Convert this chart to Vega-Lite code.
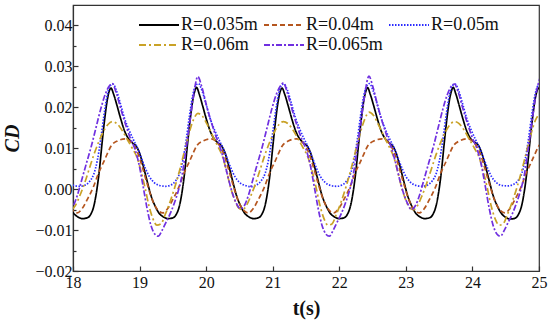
{
"$schema": "https://vega.github.io/schema/vega-lite/v6.json",
"width": 466, "height": 266,
"autosize": {"type": "none"},
"padding": {"left": 73, "top": 5, "right": 11, "bottom": 61},
"background": "white",
"config": {
  "font": "Liberation Serif",
  "view": {"stroke": "#333333", "strokeWidth": 1.2},
  "axis": {"grid": false, "domainColor": "#333333", "domainWidth": 1.2, "tickColor": "#333333", "tickWidth": 1.2,
    "labelFont": "Liberation Serif", "labelFontSize": 16, "labelColor": "#111111",
    "titleFont": "Liberation Serif", "titleFontSize": 20, "titleFontWeight": "bold", "titleColor": "#111111"},
  "legend": {"labelFont": "Liberation Serif"}
},
"data": {"values": [
{"s":"R=0.035m","t":17.885,"v":-0.0015},{"s":"R=0.035m","t":17.945,"v":-0.004},{"s":"R=0.035m","t":18.005,"v":-0.0058},{"s":"R=0.035m","t":18.075,"v":-0.0068},{"s":"R=0.035m","t":18.145,"v":-0.0072},{"s":"R=0.035m","t":18.215,"v":-0.007},{"s":"R=0.035m","t":18.265,"v":-0.0062},{"s":"R=0.035m","t":18.315,"v":-0.004},{"s":"R=0.035m","t":18.355,"v":-0.0005},{"s":"R=0.035m","t":18.395,"v":0.0045},{"s":"R=0.035m","t":18.435,"v":0.011},{"s":"R=0.035m","t":18.475,"v":0.017},{"s":"R=0.035m","t":18.515,"v":0.0218},{"s":"R=0.035m","t":18.545,"v":0.024},
{"s":"R=0.035m","t":18.57,"v":0.0247},{"s":"R=0.035m","t":18.61,"v":0.0232},{"s":"R=0.035m","t":18.66,"v":0.0205},{"s":"R=0.035m","t":18.72,"v":0.017},{"s":"R=0.035m","t":18.78,"v":0.014},{"s":"R=0.035m","t":18.84,"v":0.0122},{"s":"R=0.035m","t":18.9,"v":0.0112},{"s":"R=0.035m","t":18.95,"v":0.0105},{"s":"R=0.035m","t":19.0,"v":0.0088},{"s":"R=0.035m","t":19.05,"v":0.006},{"s":"R=0.035m","t":19.11,"v":0.0022},{"s":"R=0.035m","t":19.17,"v":-0.0015},{"s":"R=0.035m","t":19.23,"v":-0.004},{"s":"R=0.035m","t":19.29,"v":-0.0058},{"s":"R=0.035m","t":19.36,"v":-0.0068},{"s":"R=0.035m","t":19.43,"v":-0.0072},{"s":"R=0.035m","t":19.5,"v":-0.007},{"s":"R=0.035m","t":19.55,"v":-0.0062},{"s":"R=0.035m","t":19.6,"v":-0.004},{"s":"R=0.035m","t":19.64,"v":-0.0005},{"s":"R=0.035m","t":19.68,"v":0.0045},{"s":"R=0.035m","t":19.72,"v":0.011},{"s":"R=0.035m","t":19.76,"v":0.017},{"s":"R=0.035m","t":19.8,"v":0.0218},{"s":"R=0.035m","t":19.83,"v":0.024},
{"s":"R=0.035m","t":19.855,"v":0.0249},{"s":"R=0.035m","t":19.895,"v":0.0233},{"s":"R=0.035m","t":19.945,"v":0.0205},{"s":"R=0.035m","t":20.005,"v":0.017},{"s":"R=0.035m","t":20.065,"v":0.014},{"s":"R=0.035m","t":20.125,"v":0.0122},{"s":"R=0.035m","t":20.185,"v":0.0112},{"s":"R=0.035m","t":20.235,"v":0.0105},{"s":"R=0.035m","t":20.285,"v":0.0088},{"s":"R=0.035m","t":20.335,"v":0.006},{"s":"R=0.035m","t":20.395,"v":0.0022},{"s":"R=0.035m","t":20.455,"v":-0.0015},{"s":"R=0.035m","t":20.515,"v":-0.004},{"s":"R=0.035m","t":20.575,"v":-0.0058},{"s":"R=0.035m","t":20.645,"v":-0.0068},{"s":"R=0.035m","t":20.715,"v":-0.0072},{"s":"R=0.035m","t":20.785,"v":-0.007},{"s":"R=0.035m","t":20.835,"v":-0.0062},{"s":"R=0.035m","t":20.885,"v":-0.004},{"s":"R=0.035m","t":20.925,"v":-0.0005},{"s":"R=0.035m","t":20.965,"v":0.0045},{"s":"R=0.035m","t":21.005,"v":0.011},{"s":"R=0.035m","t":21.045,"v":0.017},{"s":"R=0.035m","t":21.085,"v":0.0218},{"s":"R=0.035m","t":21.115,"v":0.024},
{"s":"R=0.035m","t":21.14,"v":0.0247},{"s":"R=0.035m","t":21.18,"v":0.0232},{"s":"R=0.035m","t":21.23,"v":0.0205},{"s":"R=0.035m","t":21.29,"v":0.017},{"s":"R=0.035m","t":21.35,"v":0.014},{"s":"R=0.035m","t":21.41,"v":0.0122},{"s":"R=0.035m","t":21.47,"v":0.0112},{"s":"R=0.035m","t":21.52,"v":0.0105},{"s":"R=0.035m","t":21.57,"v":0.0088},{"s":"R=0.035m","t":21.62,"v":0.006},{"s":"R=0.035m","t":21.68,"v":0.0022},{"s":"R=0.035m","t":21.74,"v":-0.0015},{"s":"R=0.035m","t":21.8,"v":-0.004},{"s":"R=0.035m","t":21.86,"v":-0.0058},{"s":"R=0.035m","t":21.93,"v":-0.0068},{"s":"R=0.035m","t":22.0,"v":-0.0072},{"s":"R=0.035m","t":22.07,"v":-0.007},{"s":"R=0.035m","t":22.12,"v":-0.0062},{"s":"R=0.035m","t":22.17,"v":-0.004},{"s":"R=0.035m","t":22.21,"v":-0.0005},{"s":"R=0.035m","t":22.25,"v":0.0045},{"s":"R=0.035m","t":22.29,"v":0.011},{"s":"R=0.035m","t":22.33,"v":0.017},{"s":"R=0.035m","t":22.37,"v":0.0218},{"s":"R=0.035m","t":22.4,"v":0.024},
{"s":"R=0.035m","t":22.425,"v":0.0248},{"s":"R=0.035m","t":22.465,"v":0.0232},{"s":"R=0.035m","t":22.515,"v":0.0205},{"s":"R=0.035m","t":22.575,"v":0.017},{"s":"R=0.035m","t":22.635,"v":0.014},{"s":"R=0.035m","t":22.695,"v":0.0122},{"s":"R=0.035m","t":22.755,"v":0.0112},{"s":"R=0.035m","t":22.805,"v":0.0105},{"s":"R=0.035m","t":22.855,"v":0.0088},{"s":"R=0.035m","t":22.905,"v":0.006},{"s":"R=0.035m","t":22.965,"v":0.0022},{"s":"R=0.035m","t":23.025,"v":-0.0015},{"s":"R=0.035m","t":23.085,"v":-0.004},{"s":"R=0.035m","t":23.145,"v":-0.0058},{"s":"R=0.035m","t":23.215,"v":-0.0068},{"s":"R=0.035m","t":23.285,"v":-0.0072},{"s":"R=0.035m","t":23.355,"v":-0.007},{"s":"R=0.035m","t":23.405,"v":-0.0062},{"s":"R=0.035m","t":23.455,"v":-0.004},{"s":"R=0.035m","t":23.495,"v":-0.0005},{"s":"R=0.035m","t":23.535,"v":0.0045},{"s":"R=0.035m","t":23.575,"v":0.011},{"s":"R=0.035m","t":23.615,"v":0.017},{"s":"R=0.035m","t":23.655,"v":0.0218},{"s":"R=0.035m","t":23.685,"v":0.024},
{"s":"R=0.035m","t":23.71,"v":0.0249},{"s":"R=0.035m","t":23.75,"v":0.0233},{"s":"R=0.035m","t":23.8,"v":0.0205},{"s":"R=0.035m","t":23.86,"v":0.017},{"s":"R=0.035m","t":23.92,"v":0.014},{"s":"R=0.035m","t":23.98,"v":0.0122},{"s":"R=0.035m","t":24.04,"v":0.0114},{"s":"R=0.035m","t":24.09,"v":0.0107},{"s":"R=0.035m","t":24.14,"v":0.0088},{"s":"R=0.035m","t":24.19,"v":0.006},{"s":"R=0.035m","t":24.25,"v":0.0022},{"s":"R=0.035m","t":24.31,"v":-0.0015},{"s":"R=0.035m","t":24.37,"v":-0.004},{"s":"R=0.035m","t":24.43,"v":-0.0058},{"s":"R=0.035m","t":24.5,"v":-0.0069},{"s":"R=0.035m","t":24.57,"v":-0.0073},{"s":"R=0.035m","t":24.64,"v":-0.0071},{"s":"R=0.035m","t":24.69,"v":-0.0062},{"s":"R=0.035m","t":24.74,"v":-0.004},{"s":"R=0.035m","t":24.78,"v":-0.0005},{"s":"R=0.035m","t":24.82,"v":0.0045},{"s":"R=0.035m","t":24.86,"v":0.011},{"s":"R=0.035m","t":24.9,"v":0.017},{"s":"R=0.035m","t":24.94,"v":0.0218},{"s":"R=0.035m","t":24.97,"v":0.024},{"s":"R=0.035m","t":24.995,"v":0.0247},{"s":"R=0.035m","t":25.035,"v":0.0232},

{"s":"R=0.04m","t":17.835,"v":0.001},{"s":"R=0.04m","t":17.915,"v":-0.003},{"s":"R=0.04m","t":17.995,"v":-0.0052},{"s":"R=0.04m","t":18.065,"v":-0.0058},{"s":"R=0.04m","t":18.135,"v":-0.0048},{"s":"R=0.04m","t":18.215,"v":-0.0025},{"s":"R=0.04m","t":18.305,"v":0.0005},{"s":"R=0.04m","t":18.385,"v":0.004},{"s":"R=0.04m","t":18.465,"v":0.0068},{"s":"R=0.04m","t":18.525,"v":0.009},
{"s":"R=0.04m","t":18.57,"v":0.0105},{"s":"R=0.04m","t":18.67,"v":0.0118},{"s":"R=0.04m","t":18.79,"v":0.0123},{"s":"R=0.04m","t":18.89,"v":0.0112},{"s":"R=0.04m","t":18.97,"v":0.009},{"s":"R=0.04m","t":19.04,"v":0.0055},{"s":"R=0.04m","t":19.12,"v":0.001},{"s":"R=0.04m","t":19.2,"v":-0.003},{"s":"R=0.04m","t":19.28,"v":-0.0052},{"s":"R=0.04m","t":19.35,"v":-0.0058},{"s":"R=0.04m","t":19.42,"v":-0.0048},{"s":"R=0.04m","t":19.5,"v":-0.0025},{"s":"R=0.04m","t":19.59,"v":0.0005},{"s":"R=0.04m","t":19.67,"v":0.004},{"s":"R=0.04m","t":19.75,"v":0.0068},{"s":"R=0.04m","t":19.81,"v":0.009},
{"s":"R=0.04m","t":19.855,"v":0.0105},{"s":"R=0.04m","t":19.955,"v":0.0118},{"s":"R=0.04m","t":20.075,"v":0.0123},{"s":"R=0.04m","t":20.175,"v":0.0112},{"s":"R=0.04m","t":20.255,"v":0.009},{"s":"R=0.04m","t":20.325,"v":0.0055},{"s":"R=0.04m","t":20.405,"v":0.001},{"s":"R=0.04m","t":20.485,"v":-0.003},{"s":"R=0.04m","t":20.565,"v":-0.0052},{"s":"R=0.04m","t":20.635,"v":-0.0058},{"s":"R=0.04m","t":20.705,"v":-0.0048},{"s":"R=0.04m","t":20.785,"v":-0.0025},{"s":"R=0.04m","t":20.875,"v":0.0005},{"s":"R=0.04m","t":20.955,"v":0.004},{"s":"R=0.04m","t":21.035,"v":0.0068},{"s":"R=0.04m","t":21.095,"v":0.009},
{"s":"R=0.04m","t":21.14,"v":0.0105},{"s":"R=0.04m","t":21.24,"v":0.0118},{"s":"R=0.04m","t":21.36,"v":0.0123},{"s":"R=0.04m","t":21.46,"v":0.0112},{"s":"R=0.04m","t":21.54,"v":0.009},{"s":"R=0.04m","t":21.61,"v":0.0055},{"s":"R=0.04m","t":21.69,"v":0.001},{"s":"R=0.04m","t":21.77,"v":-0.003},{"s":"R=0.04m","t":21.85,"v":-0.0052},{"s":"R=0.04m","t":21.92,"v":-0.0058},{"s":"R=0.04m","t":21.99,"v":-0.0048},{"s":"R=0.04m","t":22.07,"v":-0.0025},{"s":"R=0.04m","t":22.16,"v":0.0005},{"s":"R=0.04m","t":22.24,"v":0.004},{"s":"R=0.04m","t":22.32,"v":0.0068},{"s":"R=0.04m","t":22.38,"v":0.009},
{"s":"R=0.04m","t":22.425,"v":0.0105},{"s":"R=0.04m","t":22.525,"v":0.0118},{"s":"R=0.04m","t":22.645,"v":0.0123},{"s":"R=0.04m","t":22.745,"v":0.0112},{"s":"R=0.04m","t":22.825,"v":0.009},{"s":"R=0.04m","t":22.895,"v":0.0055},{"s":"R=0.04m","t":22.975,"v":0.001},{"s":"R=0.04m","t":23.055,"v":-0.003},{"s":"R=0.04m","t":23.135,"v":-0.0052},{"s":"R=0.04m","t":23.205,"v":-0.0058},{"s":"R=0.04m","t":23.275,"v":-0.0048},{"s":"R=0.04m","t":23.355,"v":-0.0025},{"s":"R=0.04m","t":23.445,"v":0.0005},{"s":"R=0.04m","t":23.525,"v":0.004},{"s":"R=0.04m","t":23.605,"v":0.0068},{"s":"R=0.04m","t":23.665,"v":0.009},
{"s":"R=0.04m","t":23.71,"v":0.0105},{"s":"R=0.04m","t":23.81,"v":0.0118},{"s":"R=0.04m","t":23.93,"v":0.0123},{"s":"R=0.04m","t":24.03,"v":0.0112},{"s":"R=0.04m","t":24.11,"v":0.009},{"s":"R=0.04m","t":24.18,"v":0.0055},{"s":"R=0.04m","t":24.26,"v":0.001},{"s":"R=0.04m","t":24.34,"v":-0.003},{"s":"R=0.04m","t":24.42,"v":-0.0052},{"s":"R=0.04m","t":24.49,"v":-0.0058},{"s":"R=0.04m","t":24.56,"v":-0.0048},{"s":"R=0.04m","t":24.64,"v":-0.0025},{"s":"R=0.04m","t":24.73,"v":0.0005},{"s":"R=0.04m","t":24.81,"v":0.004},{"s":"R=0.04m","t":24.89,"v":0.0068},{"s":"R=0.04m","t":24.95,"v":0.009},{"s":"R=0.04m","t":24.995,"v":0.0105},{"s":"R=0.04m","t":25.095,"v":0.0118},

{"s":"R=0.05m","t":17.865,"v":0.003},{"s":"R=0.05m","t":17.935,"v":0.0016},{"s":"R=0.05m","t":18.015,"v":0.0009},{"s":"R=0.05m","t":18.105,"v":0.0007},{"s":"R=0.05m","t":18.185,"v":0.001},{"s":"R=0.05m","t":18.255,"v":0.002},{"s":"R=0.05m","t":18.315,"v":0.0038},{"s":"R=0.05m","t":18.365,"v":0.007},{"s":"R=0.05m","t":18.415,"v":0.012},{"s":"R=0.05m","t":18.465,"v":0.018},{"s":"R=0.05m","t":18.515,"v":0.023},{"s":"R=0.05m","t":18.555,"v":0.0252},
{"s":"R=0.05m","t":18.6,"v":0.0257},{"s":"R=0.05m","t":18.65,"v":0.0242},{"s":"R=0.05m","t":18.71,"v":0.021},{"s":"R=0.05m","t":18.77,"v":0.0175},{"s":"R=0.05m","t":18.84,"v":0.0145},{"s":"R=0.05m","t":18.91,"v":0.012},{"s":"R=0.05m","t":18.97,"v":0.01},{"s":"R=0.05m","t":19.03,"v":0.0075},{"s":"R=0.05m","t":19.09,"v":0.005},{"s":"R=0.05m","t":19.15,"v":0.003},{"s":"R=0.05m","t":19.22,"v":0.0016},{"s":"R=0.05m","t":19.3,"v":0.0009},{"s":"R=0.05m","t":19.39,"v":0.0007},{"s":"R=0.05m","t":19.47,"v":0.001},{"s":"R=0.05m","t":19.54,"v":0.002},{"s":"R=0.05m","t":19.6,"v":0.0038},{"s":"R=0.05m","t":19.65,"v":0.007},{"s":"R=0.05m","t":19.7,"v":0.012},{"s":"R=0.05m","t":19.75,"v":0.018},{"s":"R=0.05m","t":19.8,"v":0.023},{"s":"R=0.05m","t":19.84,"v":0.0252},
{"s":"R=0.05m","t":19.885,"v":0.0258},{"s":"R=0.05m","t":19.935,"v":0.0242},{"s":"R=0.05m","t":19.995,"v":0.021},{"s":"R=0.05m","t":20.055,"v":0.0175},{"s":"R=0.05m","t":20.125,"v":0.0145},{"s":"R=0.05m","t":20.195,"v":0.012},{"s":"R=0.05m","t":20.255,"v":0.01},{"s":"R=0.05m","t":20.315,"v":0.0075},{"s":"R=0.05m","t":20.375,"v":0.005},{"s":"R=0.05m","t":20.435,"v":0.003},{"s":"R=0.05m","t":20.505,"v":0.0016},{"s":"R=0.05m","t":20.585,"v":0.0009},{"s":"R=0.05m","t":20.675,"v":0.0006},{"s":"R=0.05m","t":20.755,"v":0.001},{"s":"R=0.05m","t":20.825,"v":0.002},{"s":"R=0.05m","t":20.885,"v":0.0038},{"s":"R=0.05m","t":20.935,"v":0.007},{"s":"R=0.05m","t":20.985,"v":0.012},{"s":"R=0.05m","t":21.035,"v":0.018},{"s":"R=0.05m","t":21.085,"v":0.023},{"s":"R=0.05m","t":21.125,"v":0.0252},
{"s":"R=0.05m","t":21.17,"v":0.0257},{"s":"R=0.05m","t":21.22,"v":0.0242},{"s":"R=0.05m","t":21.28,"v":0.021},{"s":"R=0.05m","t":21.34,"v":0.0175},{"s":"R=0.05m","t":21.41,"v":0.0145},{"s":"R=0.05m","t":21.48,"v":0.012},{"s":"R=0.05m","t":21.54,"v":0.01},{"s":"R=0.05m","t":21.6,"v":0.0075},{"s":"R=0.05m","t":21.66,"v":0.005},{"s":"R=0.05m","t":21.72,"v":0.003},{"s":"R=0.05m","t":21.79,"v":0.0016},{"s":"R=0.05m","t":21.87,"v":0.0009},{"s":"R=0.05m","t":21.96,"v":0.0007},{"s":"R=0.05m","t":22.04,"v":0.001},{"s":"R=0.05m","t":22.11,"v":0.002},{"s":"R=0.05m","t":22.17,"v":0.0038},{"s":"R=0.05m","t":22.22,"v":0.007},{"s":"R=0.05m","t":22.27,"v":0.012},{"s":"R=0.05m","t":22.32,"v":0.018},{"s":"R=0.05m","t":22.37,"v":0.023},{"s":"R=0.05m","t":22.41,"v":0.0252},
{"s":"R=0.05m","t":22.455,"v":0.0258},{"s":"R=0.05m","t":22.505,"v":0.0242},{"s":"R=0.05m","t":22.565,"v":0.021},{"s":"R=0.05m","t":22.625,"v":0.0175},{"s":"R=0.05m","t":22.695,"v":0.0145},{"s":"R=0.05m","t":22.765,"v":0.012},{"s":"R=0.05m","t":22.825,"v":0.01},{"s":"R=0.05m","t":22.885,"v":0.0075},{"s":"R=0.05m","t":22.945,"v":0.005},{"s":"R=0.05m","t":23.005,"v":0.003},{"s":"R=0.05m","t":23.075,"v":0.0016},{"s":"R=0.05m","t":23.155,"v":0.0009},{"s":"R=0.05m","t":23.245,"v":0.0007},{"s":"R=0.05m","t":23.325,"v":0.001},{"s":"R=0.05m","t":23.395,"v":0.002},{"s":"R=0.05m","t":23.455,"v":0.0038},{"s":"R=0.05m","t":23.505,"v":0.007},{"s":"R=0.05m","t":23.555,"v":0.012},{"s":"R=0.05m","t":23.605,"v":0.018},{"s":"R=0.05m","t":23.655,"v":0.023},{"s":"R=0.05m","t":23.695,"v":0.0252},
{"s":"R=0.05m","t":23.74,"v":0.0257},{"s":"R=0.05m","t":23.79,"v":0.0242},{"s":"R=0.05m","t":23.85,"v":0.021},{"s":"R=0.05m","t":23.91,"v":0.0175},{"s":"R=0.05m","t":23.98,"v":0.0145},{"s":"R=0.05m","t":24.05,"v":0.012},{"s":"R=0.05m","t":24.11,"v":0.01},{"s":"R=0.05m","t":24.17,"v":0.0075},{"s":"R=0.05m","t":24.23,"v":0.005},{"s":"R=0.05m","t":24.29,"v":0.003},{"s":"R=0.05m","t":24.36,"v":0.0016},{"s":"R=0.05m","t":24.44,"v":0.0009},{"s":"R=0.05m","t":24.53,"v":0.0008},{"s":"R=0.05m","t":24.61,"v":0.0011},{"s":"R=0.05m","t":24.68,"v":0.002},{"s":"R=0.05m","t":24.74,"v":0.0038},{"s":"R=0.05m","t":24.79,"v":0.007},{"s":"R=0.05m","t":24.84,"v":0.012},{"s":"R=0.05m","t":24.89,"v":0.018},{"s":"R=0.05m","t":24.94,"v":0.023},{"s":"R=0.05m","t":24.98,"v":0.0252},{"s":"R=0.05m","t":25.025,"v":0.0257},

{"s":"R=0.06m","t":17.855,"v":-0.0025},{"s":"R=0.06m","t":17.915,"v":-0.0045},{"s":"R=0.06m","t":17.975,"v":-0.005},{"s":"R=0.06m","t":18.035,"v":-0.004},{"s":"R=0.06m","t":18.105,"v":-0.0015},{"s":"R=0.06m","t":18.175,"v":0.0015},{"s":"R=0.06m","t":18.245,"v":0.005},{"s":"R=0.06m","t":18.315,"v":0.0085},{"s":"R=0.06m","t":18.385,"v":0.0115},{"s":"R=0.06m","t":18.455,"v":0.014},{"s":"R=0.06m","t":18.525,"v":0.0158},
{"s":"R=0.06m","t":18.59,"v":0.0165},{"s":"R=0.06m","t":18.66,"v":0.016},{"s":"R=0.06m","t":18.74,"v":0.0143},{"s":"R=0.06m","t":18.82,"v":0.012},{"s":"R=0.06m","t":18.89,"v":0.01},{"s":"R=0.06m","t":18.96,"v":0.0078},{"s":"R=0.06m","t":19.02,"v":0.0045},{"s":"R=0.06m","t":19.08,"v":0.0005},{"s":"R=0.06m","t":19.14,"v":-0.004},{"s":"R=0.06m","t":19.2,"v":-0.0072},{"s":"R=0.06m","t":19.26,"v":-0.0088},{"s":"R=0.06m","t":19.32,"v":-0.0085},{"s":"R=0.06m","t":19.39,"v":-0.006},{"s":"R=0.06m","t":19.46,"v":-0.003},{"s":"R=0.06m","t":19.53,"v":0.0005},{"s":"R=0.06m","t":19.6,"v":0.0045},{"s":"R=0.06m","t":19.67,"v":0.009},{"s":"R=0.06m","t":19.74,"v":0.0135},{"s":"R=0.06m","t":19.81,"v":0.017},
{"s":"R=0.06m","t":19.875,"v":0.0185},{"s":"R=0.06m","t":19.945,"v":0.0178},{"s":"R=0.06m","t":20.025,"v":0.0155},{"s":"R=0.06m","t":20.105,"v":0.0128},{"s":"R=0.06m","t":20.175,"v":0.0105},{"s":"R=0.06m","t":20.245,"v":0.008},{"s":"R=0.06m","t":20.305,"v":0.0045},{"s":"R=0.06m","t":20.365,"v":0.0005},{"s":"R=0.06m","t":20.425,"v":-0.0025},{"s":"R=0.06m","t":20.485,"v":-0.0045},{"s":"R=0.06m","t":20.545,"v":-0.005},{"s":"R=0.06m","t":20.605,"v":-0.004},{"s":"R=0.06m","t":20.675,"v":-0.0015},{"s":"R=0.06m","t":20.745,"v":0.0015},{"s":"R=0.06m","t":20.815,"v":0.005},{"s":"R=0.06m","t":20.885,"v":0.0085},{"s":"R=0.06m","t":20.955,"v":0.0115},{"s":"R=0.06m","t":21.025,"v":0.014},{"s":"R=0.06m","t":21.095,"v":0.0158},
{"s":"R=0.06m","t":21.16,"v":0.0165},{"s":"R=0.06m","t":21.23,"v":0.016},{"s":"R=0.06m","t":21.31,"v":0.0143},{"s":"R=0.06m","t":21.39,"v":0.012},{"s":"R=0.06m","t":21.46,"v":0.01},{"s":"R=0.06m","t":21.53,"v":0.0078},{"s":"R=0.06m","t":21.59,"v":0.0045},{"s":"R=0.06m","t":21.65,"v":0.0005},{"s":"R=0.06m","t":21.71,"v":-0.004},{"s":"R=0.06m","t":21.77,"v":-0.0072},{"s":"R=0.06m","t":21.83,"v":-0.0088},{"s":"R=0.06m","t":21.89,"v":-0.0085},{"s":"R=0.06m","t":21.96,"v":-0.006},{"s":"R=0.06m","t":22.03,"v":-0.003},{"s":"R=0.06m","t":22.1,"v":0.0005},{"s":"R=0.06m","t":22.17,"v":0.0045},{"s":"R=0.06m","t":22.24,"v":0.009},{"s":"R=0.06m","t":22.31,"v":0.0135},{"s":"R=0.06m","t":22.38,"v":0.017},
{"s":"R=0.06m","t":22.445,"v":0.0188},{"s":"R=0.06m","t":22.515,"v":0.018},{"s":"R=0.06m","t":22.595,"v":0.0155},{"s":"R=0.06m","t":22.675,"v":0.0128},{"s":"R=0.06m","t":22.745,"v":0.0105},{"s":"R=0.06m","t":22.815,"v":0.008},{"s":"R=0.06m","t":22.875,"v":0.0045},{"s":"R=0.06m","t":22.935,"v":0.0005},{"s":"R=0.06m","t":22.995,"v":-0.0025},{"s":"R=0.06m","t":23.055,"v":-0.0045},{"s":"R=0.06m","t":23.115,"v":-0.005},{"s":"R=0.06m","t":23.175,"v":-0.004},{"s":"R=0.06m","t":23.245,"v":-0.0015},{"s":"R=0.06m","t":23.315,"v":0.0015},{"s":"R=0.06m","t":23.385,"v":0.005},{"s":"R=0.06m","t":23.455,"v":0.0085},{"s":"R=0.06m","t":23.525,"v":0.0115},{"s":"R=0.06m","t":23.595,"v":0.014},{"s":"R=0.06m","t":23.665,"v":0.0158},
{"s":"R=0.06m","t":23.73,"v":0.0165},{"s":"R=0.06m","t":23.8,"v":0.016},{"s":"R=0.06m","t":23.88,"v":0.0143},{"s":"R=0.06m","t":23.96,"v":0.012},{"s":"R=0.06m","t":24.03,"v":0.01},{"s":"R=0.06m","t":24.1,"v":0.0078},{"s":"R=0.06m","t":24.16,"v":0.0045},{"s":"R=0.06m","t":24.22,"v":0.0005},{"s":"R=0.06m","t":24.28,"v":-0.004},{"s":"R=0.06m","t":24.34,"v":-0.0072},{"s":"R=0.06m","t":24.4,"v":-0.0088},{"s":"R=0.06m","t":24.46,"v":-0.0085},{"s":"R=0.06m","t":24.53,"v":-0.006},{"s":"R=0.06m","t":24.6,"v":-0.003},{"s":"R=0.06m","t":24.67,"v":0.0005},{"s":"R=0.06m","t":24.74,"v":0.0045},{"s":"R=0.06m","t":24.81,"v":0.009},{"s":"R=0.06m","t":24.88,"v":0.0135},{"s":"R=0.06m","t":24.95,"v":0.017},{"s":"R=0.06m","t":25.015,"v":0.0185},

{"s":"R=0.065m","t":17.825,"v":-0.001},{"s":"R=0.065m","t":17.885,"v":-0.0035},{"s":"R=0.065m","t":17.945,"v":-0.0048},{"s":"R=0.065m","t":18.005,"v":-0.004},{"s":"R=0.065m","t":18.065,"v":-0.0015},{"s":"R=0.065m","t":18.135,"v":0.0025},{"s":"R=0.065m","t":18.205,"v":0.0065},{"s":"R=0.065m","t":18.275,"v":0.0105},{"s":"R=0.065m","t":18.345,"v":0.015},{"s":"R=0.065m","t":18.415,"v":0.0195},{"s":"R=0.065m","t":18.485,"v":0.0232},{"s":"R=0.065m","t":18.545,"v":0.0252},
{"s":"R=0.065m","t":18.59,"v":0.0258},{"s":"R=0.065m","t":18.65,"v":0.0235},{"s":"R=0.065m","t":18.72,"v":0.0195},{"s":"R=0.065m","t":18.79,"v":0.0158},{"s":"R=0.065m","t":18.86,"v":0.0125},{"s":"R=0.065m","t":18.93,"v":0.0098},{"s":"R=0.065m","t":18.99,"v":0.0062},{"s":"R=0.065m","t":19.05,"v":0.001},{"s":"R=0.065m","t":19.11,"v":-0.0045},{"s":"R=0.065m","t":19.17,"v":-0.0088},{"s":"R=0.065m","t":19.23,"v":-0.011},{"s":"R=0.065m","t":19.28,"v":-0.0115},{"s":"R=0.065m","t":19.34,"v":-0.01},{"s":"R=0.065m","t":19.4,"v":-0.008},{"s":"R=0.065m","t":19.46,"v":-0.006},{"s":"R=0.065m","t":19.52,"v":-0.0035},{"s":"R=0.065m","t":19.58,"v":-0.0005},{"s":"R=0.065m","t":19.64,"v":0.0035},{"s":"R=0.065m","t":19.7,"v":0.01},{"s":"R=0.065m","t":19.76,"v":0.017},{"s":"R=0.065m","t":19.81,"v":0.0228},
{"s":"R=0.065m","t":19.875,"v":0.0275},{"s":"R=0.065m","t":19.935,"v":0.025},{"s":"R=0.065m","t":20.005,"v":0.0205},{"s":"R=0.065m","t":20.075,"v":0.0165},{"s":"R=0.065m","t":20.145,"v":0.013},{"s":"R=0.065m","t":20.215,"v":0.01},{"s":"R=0.065m","t":20.275,"v":0.0065},{"s":"R=0.065m","t":20.335,"v":0.0025},{"s":"R=0.065m","t":20.395,"v":-0.001},{"s":"R=0.065m","t":20.455,"v":-0.0035},{"s":"R=0.065m","t":20.515,"v":-0.0048},{"s":"R=0.065m","t":20.575,"v":-0.004},{"s":"R=0.065m","t":20.635,"v":-0.0015},{"s":"R=0.065m","t":20.705,"v":0.0025},{"s":"R=0.065m","t":20.775,"v":0.0065},{"s":"R=0.065m","t":20.845,"v":0.0105},{"s":"R=0.065m","t":20.915,"v":0.015},{"s":"R=0.065m","t":20.985,"v":0.0195},{"s":"R=0.065m","t":21.055,"v":0.0232},{"s":"R=0.065m","t":21.115,"v":0.0252},
{"s":"R=0.065m","t":21.16,"v":0.026},{"s":"R=0.065m","t":21.22,"v":0.0235},{"s":"R=0.065m","t":21.29,"v":0.0195},{"s":"R=0.065m","t":21.36,"v":0.0158},{"s":"R=0.065m","t":21.43,"v":0.0125},{"s":"R=0.065m","t":21.5,"v":0.0098},{"s":"R=0.065m","t":21.56,"v":0.0062},{"s":"R=0.065m","t":21.62,"v":0.001},{"s":"R=0.065m","t":21.68,"v":-0.0045},{"s":"R=0.065m","t":21.74,"v":-0.0088},{"s":"R=0.065m","t":21.8,"v":-0.011},{"s":"R=0.065m","t":21.85,"v":-0.0115},{"s":"R=0.065m","t":21.91,"v":-0.01},{"s":"R=0.065m","t":21.97,"v":-0.008},{"s":"R=0.065m","t":22.03,"v":-0.006},{"s":"R=0.065m","t":22.09,"v":-0.0035},{"s":"R=0.065m","t":22.15,"v":-0.0005},{"s":"R=0.065m","t":22.21,"v":0.0035},{"s":"R=0.065m","t":22.27,"v":0.01},{"s":"R=0.065m","t":22.33,"v":0.017},{"s":"R=0.065m","t":22.38,"v":0.0228},
{"s":"R=0.065m","t":22.445,"v":0.0276},{"s":"R=0.065m","t":22.505,"v":0.025},{"s":"R=0.065m","t":22.575,"v":0.0205},{"s":"R=0.065m","t":22.645,"v":0.0165},{"s":"R=0.065m","t":22.715,"v":0.013},{"s":"R=0.065m","t":22.785,"v":0.01},{"s":"R=0.065m","t":22.845,"v":0.0065},{"s":"R=0.065m","t":22.905,"v":0.0025},{"s":"R=0.065m","t":22.965,"v":-0.001},{"s":"R=0.065m","t":23.025,"v":-0.0035},{"s":"R=0.065m","t":23.085,"v":-0.005},{"s":"R=0.065m","t":23.145,"v":-0.004},{"s":"R=0.065m","t":23.205,"v":-0.0015},{"s":"R=0.065m","t":23.275,"v":0.0025},{"s":"R=0.065m","t":23.345,"v":0.0065},{"s":"R=0.065m","t":23.415,"v":0.0105},{"s":"R=0.065m","t":23.485,"v":0.015},{"s":"R=0.065m","t":23.555,"v":0.0195},{"s":"R=0.065m","t":23.625,"v":0.0232},{"s":"R=0.065m","t":23.685,"v":0.0252},
{"s":"R=0.065m","t":23.73,"v":0.0257},{"s":"R=0.065m","t":23.79,"v":0.0235},{"s":"R=0.065m","t":23.86,"v":0.0195},{"s":"R=0.065m","t":23.93,"v":0.0158},{"s":"R=0.065m","t":24.0,"v":0.0125},{"s":"R=0.065m","t":24.07,"v":0.0098},{"s":"R=0.065m","t":24.13,"v":0.0062},{"s":"R=0.065m","t":24.19,"v":0.001},{"s":"R=0.065m","t":24.25,"v":-0.0045},{"s":"R=0.065m","t":24.31,"v":-0.0088},{"s":"R=0.065m","t":24.37,"v":-0.011},{"s":"R=0.065m","t":24.42,"v":-0.0115},{"s":"R=0.065m","t":24.48,"v":-0.01},{"s":"R=0.065m","t":24.54,"v":-0.008},{"s":"R=0.065m","t":24.6,"v":-0.006},{"s":"R=0.065m","t":24.66,"v":-0.0035},{"s":"R=0.065m","t":24.72,"v":-0.0005},{"s":"R=0.065m","t":24.78,"v":0.0035},{"s":"R=0.065m","t":24.84,"v":0.01},{"s":"R=0.065m","t":24.9,"v":0.017},{"s":"R=0.065m","t":24.95,"v":0.0228},{"s":"R=0.065m","t":25.015,"v":0.0272}
]},
"mark": {"type": "line", "interpolate": "monotone", "clip": true, "strokeWidth": 1.7},
"encoding": {
  "x": {"field": "t", "type": "quantitative",
    "scale": {"domain": [18, 25], "nice": false, "zero": false},
    "axis": {"title": "t(s)", "format": "d", "values": [18, 18.5, 19, 19.5, 20, 20.5, 21, 21.5, 22, 22.5, 23, 23.5, 24, 24.5, 25],
      "labelExpr": "datum.value % 1 === 0 ? datum.label : ''",
      "tickSize": {"condition": {"test": "datum.value % 1 === 0", "value": -5}, "value": -3},
      "labelPadding": 8, "titlePadding": 8, "labelFlush": false}},
  "y": {"field": "v", "type": "quantitative",
    "scale": {"domain": [-0.02, 0.045], "nice": false, "zero": false},
    "axis": {"title": "CD", "titleFontStyle": "italic", "format": ".2f",
      "values": [-0.02, -0.015, -0.01, -0.005, 0, 0.005, 0.01, 0.015, 0.02, 0.025, 0.03, 0.035, 0.04],
      "labelExpr": "round(datum.value * 1000) % 10 === 0 ? datum.label : ''",
      "tickSize": {"condition": {"test": "round(datum.value * 1000) % 10 === 0", "value": -5}, "value": -3},
      "labelPadding": 6, "titlePadding": 12}},
  "color": {"field": "s", "type": "nominal",
    "scale": {"domain": ["R=0.035m", "R=0.04m", "R=0.05m", "R=0.06m", "R=0.065m"],
      "range": ["#000000", "#b5561f", "#2b2bff", "#c9a227", "#7030e0"]},
    "legend": {"title": null, "orient": "none", "legendX": 62, "legendY": 11, "columns": 3, "direction": "horizontal", "gridAlign": "none",
      "symbolType": "M-1,0H7", "symbolSize": 100, "symbolStrokeWidth": 2, "labelFont": "Liberation Serif", "labelFontSize": 18,
      "labelColor": "#111111", "labelOffset": 28, "columnPadding": 2, "rowPadding": 2}},
  "strokeDash": {"field": "s", "type": "nominal",
    "scale": {"domain": ["R=0.035m", "R=0.04m", "R=0.05m", "R=0.06m", "R=0.065m"],
      "range": [[1, 0], [5, 3], [1.5, 1.5], [7, 3, 2, 3], [6, 2, 2, 2]]},
    "legend": {"title": null, "orient": "none", "legendX": 62, "legendY": 11, "columns": 3, "direction": "horizontal", "gridAlign": "none",
      "symbolType": "M-1,0H7", "symbolSize": 100, "symbolStrokeWidth": 2, "labelFont": "Liberation Serif", "labelFontSize": 18,
      "labelColor": "#111111", "labelOffset": 28, "columnPadding": 2, "rowPadding": 2}}
}
}
